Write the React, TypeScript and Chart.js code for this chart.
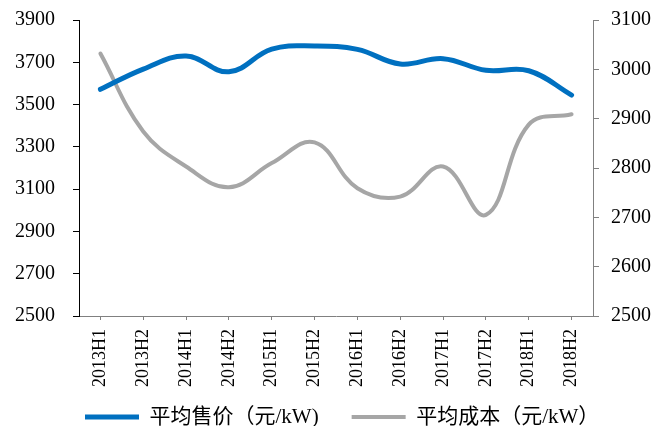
import React, { useEffect, useRef } from "react";
import { Chart, registerables } from "chart.js";

Chart.register(...registerables);

const categories = ["2013H1", "2013H2", "2014H1", "2014H2", "2015H1", "2015H2", "2016H1", "2016H2", "2017H1", "2017H2", "2018H1", "2018H2"];
const avgPrice = [3572, 3668, 3730, 3655, 3762, 3777, 3761, 3692, 3717, 3662, 3660, 3545];
const avgCost = [3032, 2874, 2803, 2761, 2810, 2852, 2759, 2742, 2803, 2705, 2888, 2909];
const seriesNames = ["平均售价（元/kW)", "平均成本（元/kW）"];
const leftTicks = { min: 2500, max: 3900, step: 200 };
const rightTicks = { min: 2500, max: 3100, step: 100 };

const FONT = "'Liberation Serif', 'Times New Roman', 'Noto Sans CJK SC', serif";
const LEGEND_PAD = 33;
const LEGEND_FONT = 21;

const legendPlacer = {
  id: "legendPlacer",
  beforeLayout(chart: any) {
    const lg = chart.legend;
    if (lg && !lg.__wrapped) {
      const orig = lg.fit;
      lg.fit = function (...a: any[]) {
        const r = orig.apply(this, a);
        this.height = 37;
        return r;
      };
      lg.__wrapped = true;
    }
  },
  afterLayout(chart: any) {
    const lg = chart.legend;
    if (!lg || !lg.lineWidths) return;
    const x0 = (lg.left + LEGEND_PAD + lg.right - lg.lineWidths[0]) / 2;
    const dx = 85 - x0;
    const y0 = lg.top + LEGEND_PAD + LEGEND_FONT / 2;
    const dy = 417 - y0;
    lg.left += dx;
    lg.right += dx;
    lg.width = lg.right - lg.left;
    lg.top += dy;
    lg.bottom = chart.height;
    lg.height = lg.bottom - lg.top;
  },
};

const noPad = (s: any) => { s.paddingTop = 0; s.paddingBottom = 0; };

export default function App() {
  const ref = useRef<HTMLCanvasElement | null>(null);
  useEffect(() => {
    document.body.style.margin = "0";
    const ctx = ref.current!;
    const chart = new Chart(ctx, {
      type: "line",
      data: {
        labels: categories,
        datasets: [
          {
            label: seriesNames[0],
            data: avgPrice,
            borderColor: "#0070C0",
            backgroundColor: "#0070C0",
            borderWidth: 5,
            borderCapStyle: "round",
            tension: 0.4,
            pointRadius: 0,
            yAxisID: "y",
          },
          {
            label: seriesNames[1],
            data: avgCost,
            borderColor: "#A6A6A6",
            backgroundColor: "#A6A6A6",
            borderWidth: 4,
            borderCapStyle: "round",
            tension: 0.4,
            pointRadius: 0,
            yAxisID: "y1",
          },
        ],
      },
      options: {
        animation: false,
        responsive: true,
        maintainAspectRatio: false,
        layout: { padding: { top: 20, left: 0, right: 0, bottom: 0 } },
        plugins: {
          tooltip: { enabled: false },
          legend: {
            position: "bottom",
            labels: {
              usePointStyle: true,
              pointStyle: "line",
              pointStyleWidth: 54,
              color: "#000",
              padding: LEGEND_PAD,
              font: { family: FONT, size: LEGEND_FONT },
            },
          },
        },
        scales: {
          x: {
            offset: true,
            afterFit: (s: any) => { s.height = 73; },
            grid: { display: true, drawOnChartArea: false, offset: false, tickLength: 4, color: "#808080" },
            border: { color: "#808080", width: 1 },
            ticks: { minRotation: 90, maxRotation: 90, padding: 9, color: "#000", font: { family: FONT, size: 18 } },
          },
          y: {
            position: "left",
            min: leftTicks.min,
            max: leftTicks.max,
            afterFit: (s: any) => { s.width = 79; noPad(s); },
            ticks: { stepSize: leftTicks.step, padding: 18, color: "#000", font: { family: FONT, size: 20 }, callback: (v: any) => String(v) },
            grid: { display: true, drawOnChartArea: false, tickLength: 6, color: "#000" },
            border: { color: "#000", width: 1 },
          },
          y1: {
            position: "right",
            min: rightTicks.min,
            max: rightTicks.max,
            afterFit: (s: any) => { s.width = 62; noPad(s); },
            ticks: { stepSize: rightTicks.step, padding: 12, color: "#000", font: { family: FONT, size: 20 }, callback: (v: any) => String(v) },
            grid: { display: true, drawOnChartArea: false, tickLength: 6, color: "#808080" },
            border: { color: "#808080", width: 1 },
          },
        },
      },
      plugins: [legendPlacer],
    });
    return () => chart.destroy();
  }, []);
  return (
    <div style={{ position: "absolute", left: 0, top: 0, width: 655, height: 426 }}>
      <canvas ref={ref} />
    </div>
  );
}
